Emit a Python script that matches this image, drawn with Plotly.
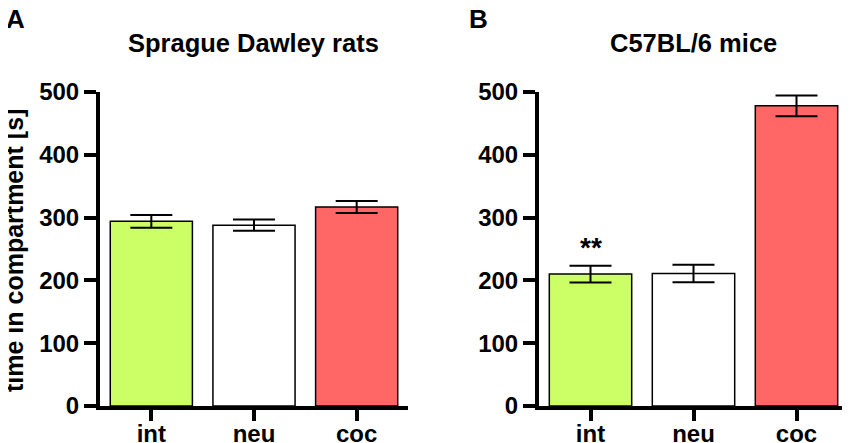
import plotly.graph_objects as go

groups = ["int", "neu", "coc"]
rats_mean = [294, 288, 317]
rats_sem = [10, 9, 9.5]
mice_mean = [210, 211, 478]
mice_sem = [13.5, 14, 16.5]
bar_colors = ["#CCFF66", "#FFFFFF", "#FF6666"]
yticks = [0, 100, 200, 300, 400, 500]

FONT = "Liberation Sans, Arial, sans-serif"

# the page body has an 8px margin, so the figure is sized to fit inside the window
W, H, PAD = 842, 435, 8


def fx(p):
    return (p - PAD) / W


def fy(p):
    return 1 - (p - PAD) / H


fig = go.Figure()

for mean, sem, xa, ya in [(rats_mean, rats_sem, "x", "y"), (mice_mean, mice_sem, "x2", "y2")]:
    fig.add_trace(go.Bar(
        x=groups, y=mean, xaxis=xa, yaxis=ya, width=0.8,
        marker=dict(color=bar_colors, line=dict(color="black", width=1.5)),
        error_y=dict(type="data", array=sem, visible=True, color="black",
                     thickness=2, width=21),
        showlegend=False,
    ))

axis_x = dict(range=[-0.5, 2.5], showline=True, linewidth=4, linecolor="black",
              ticks="outside", ticklen=11, tickwidth=4, tickcolor="black",
              showgrid=False, zeroline=False, automargin=False, ticklabelstandoff=-8,
              tickfont=dict(family=FONT, size=24, color="black", weight="bold"))
axis_y = dict(range=[0, 500], tickvals=yticks, showline=True, linewidth=4,
              linecolor="black", ticks="outside", ticklen=12, tickwidth=4,
              tickcolor="black", showgrid=False, zeroline=False, automargin=False,
              tickfont=dict(family=FONT, size=24, color="black", weight="bold"))

fig.update_layout(
    width=W, height=H,
    margin=dict(l=0, r=0, t=0, b=0),
    paper_bgcolor="white", plot_bgcolor="white",
    bargap=0.2,
    xaxis=dict(domain=[fx(100), fx(408)], anchor="y", **axis_x),
    yaxis=dict(domain=[fy(406), fy(92)], anchor="x", **axis_y),
    xaxis2=dict(domain=[fx(539), fx(848)], anchor="y2", **axis_x),
    yaxis2=dict(domain=[fy(406), fy(92)], anchor="x2", **axis_y),
)

bold = dict(family=FONT, color="black", weight="bold")
notes = [
    dict(text="A", x=15, y=19, size=26),
    dict(text="B", x=478, y=19, size=26),
    dict(text="Sprague Dawley rats", x=253, y=43, size=25.5),
    dict(text="C57BL/6 mice", x=693, y=43, size=25.5),
]
for n in notes:
    fig.add_annotation(text=n["text"], x=fx(n["x"]), y=fy(n["y"]), xref="paper", yref="paper",
                       showarrow=False, xanchor="center", yanchor="middle",
                       font=dict(size=n["size"], **bold))

fig.add_annotation(text="time in compartment [s]", x=fx(14), y=fy(251),
                   xref="paper", yref="paper", showarrow=False, textangle=-90,
                   xanchor="center", yanchor="middle", font=dict(size=25, **bold))

fig.add_annotation(text="**", x="int", y=252, xref="x2", yref="y2", showarrow=False,
                   yanchor="middle", font=dict(size=28, **bold))

fig.write_html("out.html")
